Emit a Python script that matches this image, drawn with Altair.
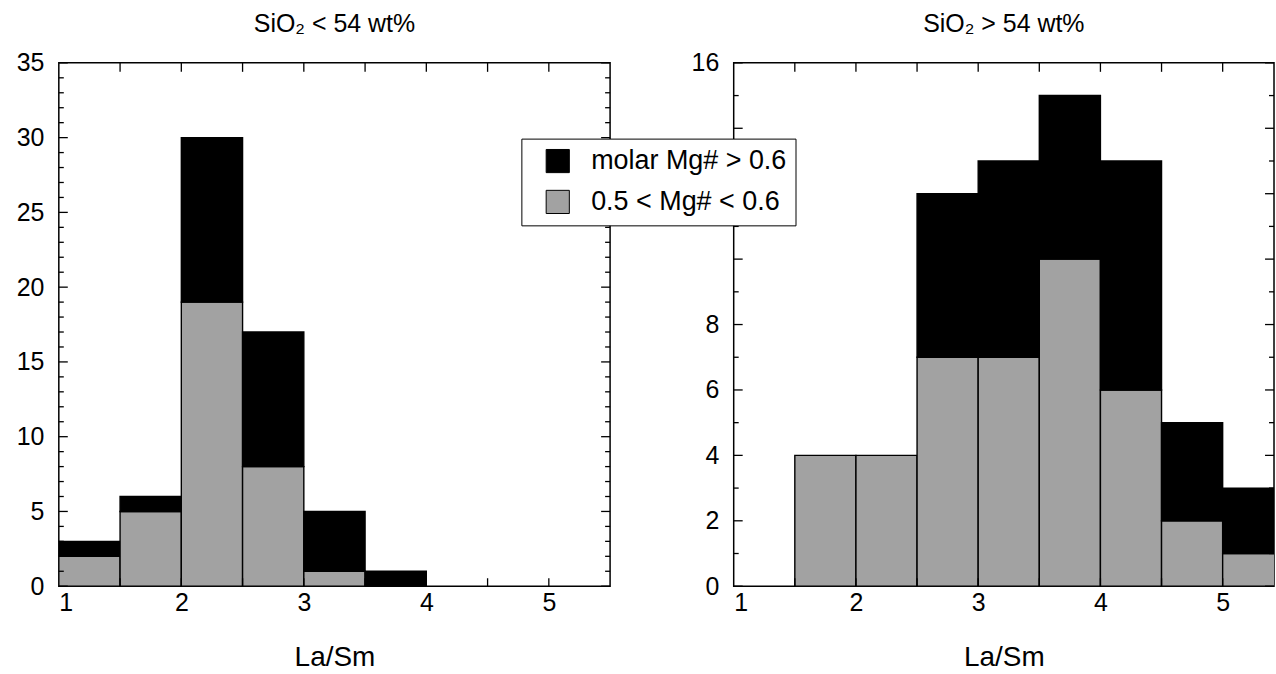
import altair as alt
import pandas as pd

# ---- data ----
HIGH = "molar Mg# > 0.6"
MID = "0.5 < Mg# < 0.6"

left_bin_start = [1.0, 1.5, 2.0, 2.5, 3.0, 3.5]
left_high = [1, 1, 11, 9, 4, 1]
left_mid = [2, 5, 19, 8, 1, 0]

right_bin_start = [1.5, 2.0, 2.5, 3.0, 3.5, 4.0, 4.5, 5.0]
right_high = [0, 0, 5, 6, 5, 7, 3, 2]
right_mid = [4, 4, 7, 7, 10, 6, 2, 1]

bin_width = 0.5

left_y_ticks = list(range(0, 36))
right_y_ticks = list(range(0, 17))
left_x_ticks = [1.5, 2.0, 2.5, 3.0, 3.5, 4.0, 4.5, 5.0]
right_x_ticks = [1.5, 2.0, 2.5, 3.0, 3.5, 4.0, 4.5, 5.0]

FONT = "Liberation Sans"
GRAY = "#a2a2a2"

W1, W2, H = 553, 542, 525


def make_df(starts, high, mid):
    rows = []
    for s, h, m in zip(starts, high, mid):
        if m > 0:
            rows.append({"start": s, "end": s + bin_width, "lo": 0, "hi": m, "grp": MID})
        if h > 0:
            rows.append({"start": s, "end": s + bin_width, "lo": m, "hi": m + h, "grp": HIGH})
    return pd.DataFrame(rows)


color = alt.Color(
    "grp:N",
    scale=alt.Scale(domain=[HIGH, MID], range=["#000000", GRAY]),
    legend=alt.Legend(
        orient="none", legendX=464, legendY=76, title=None,
        symbolType="square", symbolSize=540, symbolStrokeColor="black",
        symbolStrokeWidth=1, symbolOpacity=1, symbolOffset=14, labelLimit=0,
        labelFont=FONT, labelFontSize=27, labelColor="black", labelOffset=20,
        rowPadding=12, padding=9, strokeColor="black", fillColor="white",
    ),
)


def panel(df, title, xdomain, ydomain, yvals, W, yticks, major_step, xticks):
    xscale = alt.Scale(domain=xdomain, nice=False, zero=False)
    yscale = alt.Scale(domain=ydomain, nice=False)
    xaxis = alt.Axis(values=[1, 2, 3, 4, 5], title="La/Sm", format="d",
                     labelPadding=4, titlePadding=29)
    yaxis = alt.Axis(values=yvals, title=None, labelPadding=15)

    bars = alt.Chart(df).mark_bar(stroke="black", strokeWidth=1.4, clip=True).encode(
        x=alt.X("start:Q", scale=xscale, axis=xaxis),
        x2="end:Q",
        y=alt.Y("lo:Q", scale=yscale, axis=yaxis),
        y2="hi:Q",
        color=color,
    )

    layers = [bars]
    ymaj = pd.DataFrame({"lo": [v for v in yticks if v % major_step == 0]})
    ymin = pd.DataFrame({"lo": [v for v in yticks if v % major_step != 0]})
    for d, ln in ((ymaj, 9), (ymin, 5)):
        yenc = alt.Y("lo:Q", scale=yscale, axis=yaxis)
        layers.append(alt.Chart(d).mark_rule(color="black", strokeWidth=1.3).encode(
            y=yenc, x=alt.value(0), x2=alt.value(ln)))
        layers.append(alt.Chart(d).mark_rule(color="black", strokeWidth=1.3).encode(
            y=yenc, x=alt.value(W - ln), x2=alt.value(W)))
    xdf = pd.DataFrame({"start": xticks})
    xenc = alt.X("start:Q", scale=xscale, axis=xaxis)
    layers.append(alt.Chart(xdf).mark_rule(color="black", strokeWidth=1.3).encode(
        x=xenc, y=alt.value(0), y2=alt.value(9)))
    layers.append(alt.Chart(xdf).mark_rule(color="black", strokeWidth=1.3).encode(
        x=xenc, y=alt.value(H - 8), y2=alt.value(H)))

    return alt.layer(*layers).properties(
        width=W, height=H,
        title=alt.TitleParams(title, font=FONT, fontSize=25, fontWeight="normal",
                              color="black", offset=14),
    )


left = panel(make_df(left_bin_start, left_high, left_mid), "SiO₂ < 54 wt%",
             [1, 5.5], [0, 35], list(range(0, 36, 5)), W1,
             left_y_ticks, 5, left_x_ticks)
right = panel(make_df(right_bin_start, right_high, right_mid), "SiO₂ > 54 wt%",
              [1, 5.42], [0, 16], [0, 2, 4, 6, 8, 16], W2,
              right_y_ticks, 2, right_x_ticks)

chart = alt.hconcat(left, right, spacing=78).properties(
    padding={"left": 15, "top": 10, "right": 0, "bottom": 0},
    background="white",
).configure_view(stroke="black", strokeWidth=1.5).configure_axis(
    labelFont=FONT, labelFontSize=25, labelColor="black",
    titleFont=FONT, titleFontSize=28, titleFontWeight="normal", titleColor="black",
    domain=False, ticks=False, grid=False,
)

chart.save("out.html", embed_options={"renderer": "svg", "actions": False})
